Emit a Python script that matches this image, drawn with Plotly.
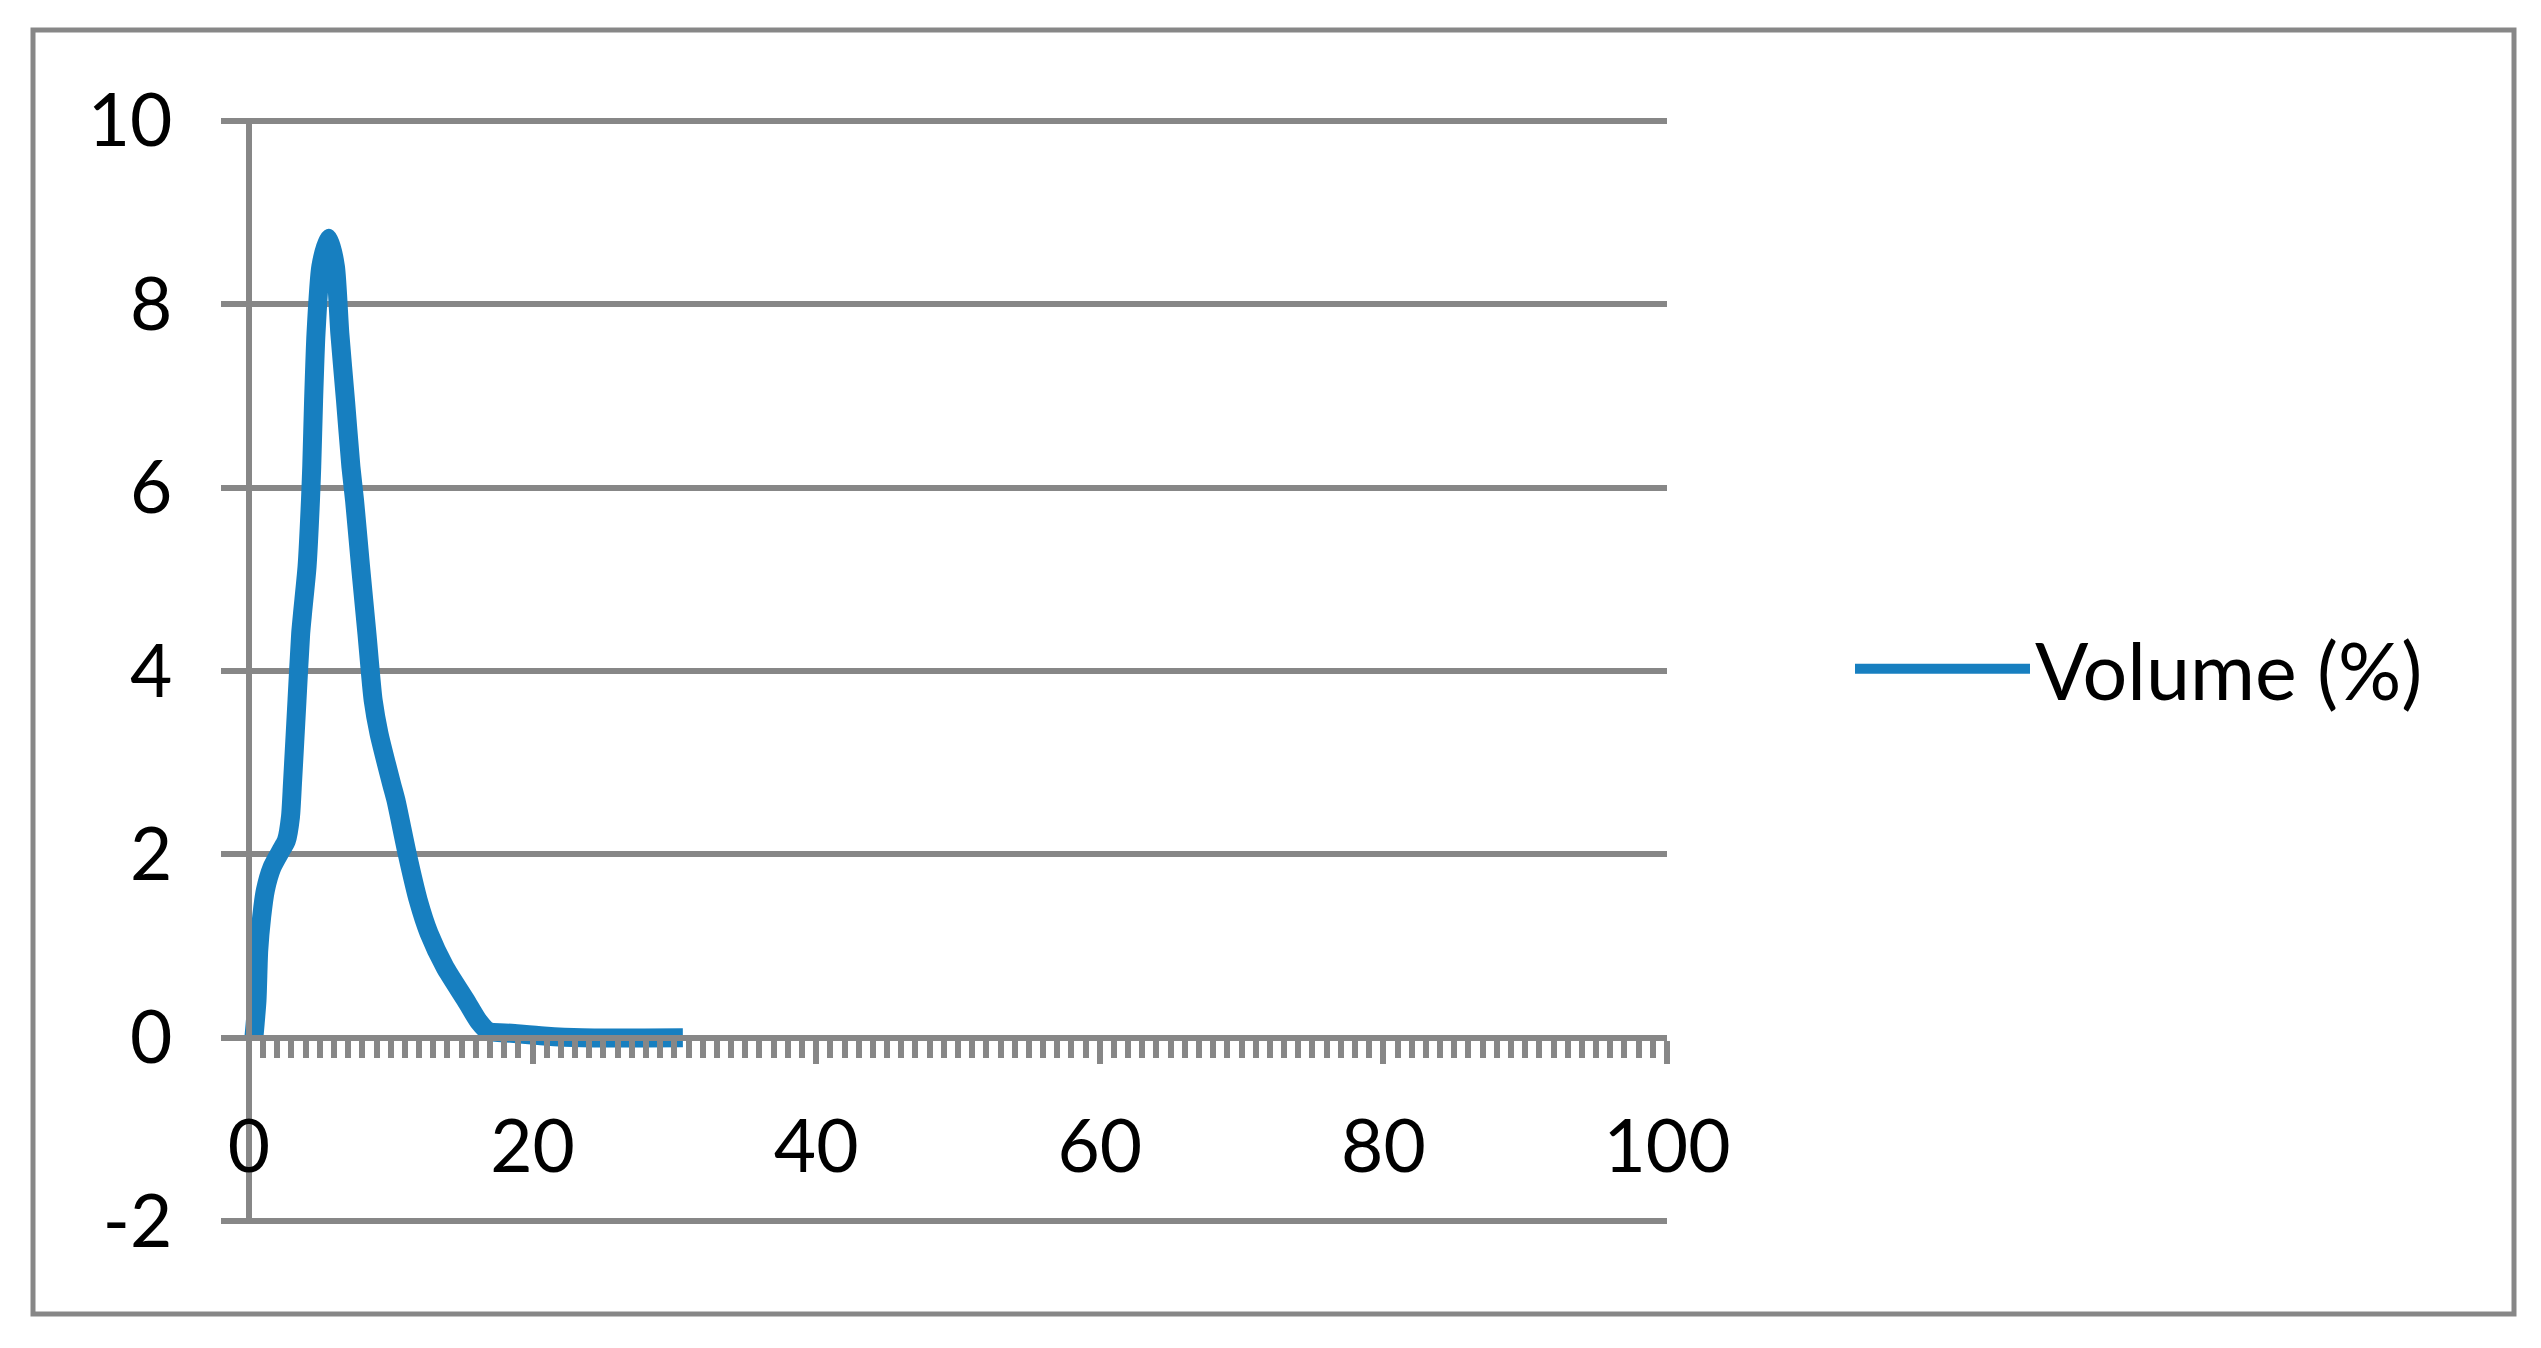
import plotly.graph_objects as go

# particle size distribution
size = [0.35, 0.57, 0.69, 0.9, 1.16, 1.63, 2.29, 2.64, 2.93, 3.07, 3.39, 3.65, 3.8, 4.1,
        4.34, 4.43, 4.56, 4.73, 5.07, 5.63, 6.1, 6.41, 6.81, 7.19, 7.45, 7.87, 8.32,
        8.76, 9.17, 10.06, 10.37, 11.17, 11.94, 12.7, 13.83, 15.29, 16.2, 16.9, 18.5,
        20.8, 23.5, 30.6]
volume = [0.0, 0.41, 0.95, 1.32, 1.61, 1.86, 2.05, 2.15, 2.41, 2.77, 3.68, 4.41, 4.66, 5.14,
          5.86, 6.23, 6.95, 7.68, 8.41, 8.72, 8.41, 7.68, 6.95, 6.23, 5.86, 5.14, 4.41,
          3.68, 3.32, 2.77, 2.59, 2.0, 1.5, 1.14, 0.77, 0.41, 0.18, 0.07, 0.05,
          0.02, 0.0, 0.0]
series_name = "Volume (%)"

y_ticks = [-2, 0, 2, 4, 6, 8, 10]
y_labels = ["-2", "0", "2", "4", "6", "8", "10"]

x_range = [-0.7, 100]
y_range = [-2.03, 10.03]

blue = "#177FC0"
gray = "#878787"
font = dict(family="Lato", size=73, color="black")

# page body has an 8px margin, so the figure is a bit smaller and everything is offset by 8
off = 8
W, H = 2541 - off, 1348 - off
ml, mr, mt, mb = 239 - off, 874, 118 - off, 124
pw, ph = W - ml - mr, H - mt - mb

fig = go.Figure()
fig.add_trace(go.Scatter(x=size, y=volume, name=series_name, mode="lines",
                         line=dict(color=blue, width=19, shape="spline", smoothing=0.6)))

fig.update_layout(
    width=W, height=H,
    margin=dict(l=ml, r=mr, t=mt, b=mb),
    plot_bgcolor="white", paper_bgcolor="white",
    font=font,
    showlegend=True,
    legend=dict(x=(1850 - off - ml) / pw, y=(H - mb - (669 - off)) / ph,
                xanchor="left", yanchor="middle",
                itemwidth=175, font=dict(family="Lato", size=79, color="black"),
                bgcolor="rgba(0,0,0,0)"),
    xaxis=dict(range=x_range, dtick=20, tick0=0, showgrid=False, zeroline=False,
               showline=True, linecolor=gray, linewidth=6,
               anchor="free", position=(0 - y_range[0]) / (y_range[1] - y_range[0]),
               ticks="outside", ticklen=23, tickwidth=6, tickcolor=gray,
               minor=dict(dtick=1, tick0=0, ticks="outside", ticklen=17, tickwidth=6,
                          tickcolor=gray, showgrid=False),
               ticklabelstandoff=21, tickfont=font),
    yaxis=dict(range=y_range, tickmode="array", tickvals=y_ticks, ticktext=y_labels,
               showgrid=True, gridcolor=gray, gridwidth=6,
               zeroline=False, showline=True, linecolor=gray, linewidth=6,
               anchor="free", position=(0 - x_range[0]) / (x_range[1] - x_range[0]),
               ticks="outside", ticklen=25, tickwidth=6, tickcolor=gray,
               ticklabelstandoff=34, tickfont=font),
)

# chart area border
fig.add_shape(type="rect", xref="paper", yref="paper",
              x0=(33 - off - ml) / pw, x1=(2514 - off - ml) / pw,
              y0=(H - mb - (1314 - off)) / ph, y1=(H - mb - (30 - off)) / ph,
              line=dict(color=gray, width=5), layer="below")

fig.write_html("out.html")
